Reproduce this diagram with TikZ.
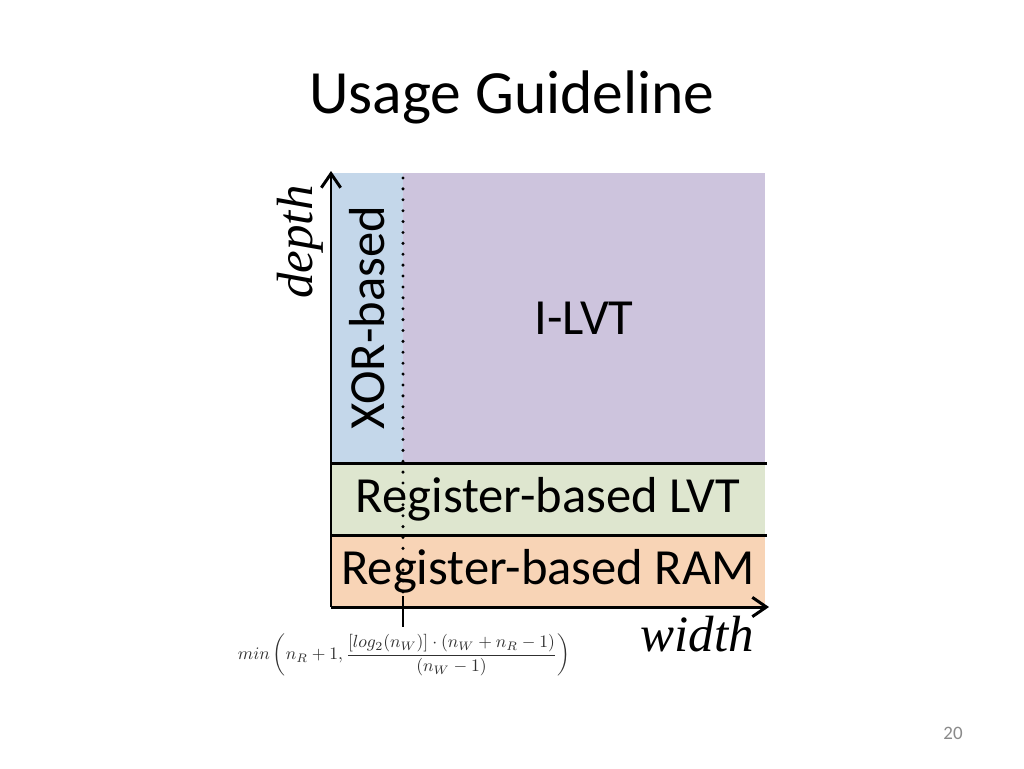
\documentclass[tikz,border=0pt]{standalone}
\usepackage{fontspec}
\setmainfont{Carlito}
\newfontfamily\axisfont{Liberation Serif}
\usetikzlibrary{arrows.meta}
\definecolor{xorblue}{HTML}{C4D7EA}
\definecolor{lvtpurple}{HTML}{CDC4DD}
\definecolor{reggreen}{HTML}{DEE6CF}
\definecolor{ramorange}{HTML}{F8D4B6}
\definecolor{formulagray}{HTML}{303030}
\definecolor{pagegray}{HTML}{8A8A8A}

\begin{document}
\begin{tikzpicture}[x=0.02cm,y=-0.02cm,
  point/.style={coordinate},
  region/.style={inner sep=0pt, outer sep=0pt, text=black, font=\fontsize{28.8}{30}\selectfont},
  axis/.style={line width=1.7pt, -{Straight Barb[length=8pt,width=11pt,line width=1.7pt]}},
  band/.style={line width=1.7pt},
  every path/.style={draw=black}]
\useasboundingbox[fill=white, draw=none] (0,0) rectangle (1024,768);
% title
\node (title) at (512,97) {\fontsize{35}{40}\selectfont Usage Guideline};
% regions
\node[region, fill=xorblue, rotate=90, minimum width=5.8cm, minimum height=1.44cm] (xor) at (367,318) {XOR-based};
\node[region, fill=lvtpurple, minimum width=7.24cm, minimum height=5.8cm] (ilvt) at (584,318) {I-LVT};
\node[region, fill=reggreen, minimum width=8.68cm, minimum height=1.44cm] (reglvt) at (548,499) {Register-based LVT};
\node[region, fill=ramorange, minimum width=8.68cm, minimum height=1.44cm] (regram) at (548,571) {Register-based RAM};
% axes
\node[point] (o) at (331,607) {};
\node[point] (ytop) at (331,171) {};
\node[point] (xend) at (769,607) {};
\node[point] (l1a) at (331,463) {};
\node[point] (l1b) at (767,463) {};
\node[point] (l2a) at (331,535) {};
\node[point] (l2b) at (767,535) {};
\node[point] (d1) at (403,178) {};
\node[point] (d2) at (403,596) {};
\node[point] (d3) at (403,627) {};
\draw[band] (l1a) -- (l1b);
\draw[band] (l2a) -- (l2b);
\draw[line width=1.9pt, line cap=round, dash pattern=on 0pt off 6.2pt] (d1) -- (d2);
\draw[line width=1.7pt] (d2) -- (d3);
\draw[axis] (o) -- (ytop);
\draw[axis] (o) -- (xend);
% axis labels
\node[rotate=90] (depth) at (300,242) {\axisfont\itshape\fontsize{29}{32}\selectfont depth};
\node (width) at (697,634) {\axisfont\itshape\fontsize{29}{32}\selectfont width};
% threshold
\node[text=formulagray] (thr) at (404,655) {\fontsize{10.2}{13}\selectfont
  $\displaystyle min\left(n_R+1,\frac{[log_2(n_W)]\cdot(n_W+n_R-1)}{(n_W-1)}\right)$};
% page number
\node[text=pagegray] (page) at (953,733) {\fontsize{10.8}{12}\selectfont 20};
\end{tikzpicture}
\end{document}
